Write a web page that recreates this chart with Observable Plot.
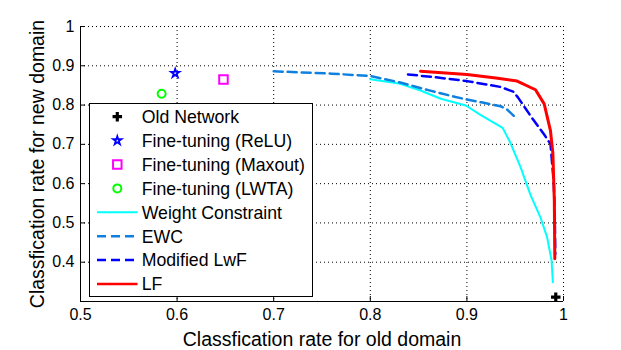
<!DOCTYPE html>
<html><head><meta charset="utf-8">
<script src="https://cdn.jsdelivr.net/npm/d3@7"></script>
<script src="https://cdn.jsdelivr.net/npm/@observablehq/plot@0.6"></script>
<style>body{margin:0;background:#fff} #chart{width:621px;height:350px}</style>
</head><body><div id="chart"></div>
<script>
// ---- data ----
const xTicks = [0.5, 0.6, 0.7, 0.8, 0.9, 1];
const yTicks = [0.4, 0.5, 0.6, 0.7, 0.8, 0.9, 1];
const xLabel = "Classfication rate for old domain";
const yLabel = "Classfication rate for new domain";
const seriesNames = ["Old Network", "Fine-tuning (ReLU)", "Fine-tuning (Maxout)", "Fine-tuning (LWTA)", "Weight Constraint", "EWC", "Modified LwF", "LF"];

// single points [old, new]
const oldNetwork = [0.992, 0.311];
const ftRelu = [0.598, 0.881];
const ftMaxout = [0.648, 0.865];
const ftLwta = [0.584, 0.829];

// curves
const wcOld = [0.800, 0.831, 0.852, 0.873, 0.899, 0.914, 0.937, 0.945, 0.9555, 0.966, 0.976, 0.983, 0.9876, 0.989];
const wcNew = [0.866, 0.854, 0.837, 0.816, 0.799, 0.775, 0.742, 0.704, 0.642, 0.570, 0.515, 0.464, 0.405, 0.349];

const ewcOld = [0.700, 0.760, 0.800, 0.830, 0.845, 0.860, 0.886, 0.900, 0.915, 0.935, 0.941, 0.951];
const ewcNew = [0.886, 0.880, 0.874, 0.858, 0.848, 0.838, 0.822, 0.814, 0.807, 0.797, 0.790, 0.767];

const lwfOld = [0.839, 0.870, 0.900, 0.935, 0.948, 0.953, 0.968, 0.980, 0.9865, 0.990, 0.991, 0.9915];
const lwfNew = [0.878, 0.870, 0.861, 0.846, 0.834, 0.819, 0.765, 0.725, 0.701, 0.600, 0.515, 0.420];

const lfOld = [0.852, 0.900, 0.930, 0.952, 0.971, 0.980, 0.9865, 0.989, 0.9905, 0.991];
const lfNew = [0.886, 0.878, 0.869, 0.861, 0.839, 0.803, 0.735, 0.677, 0.557, 0.409];

// ---- build ----
const toPts = (xs, ys) => xs.map((x, i) => ({x, y: ys[i]}));
const pt = (p) => [{x: p[0], y: p[1]}];
const font = "'Liberation Sans', Arial, Helvetica, sans-serif";
const C = {wc: "#00ffff", ewc: "#1080e0", lwf: "#0000ff", lf: "#ff0000", relu: "#0000ff", maxout: "#ff00ff", lwta: "#00ff00"};
const dotted = {stroke: "#000", strokeOpacity: 1, strokeDasharray: "1,3", strokeWidth: 1};
const R = {old: 4, relu: 2.6, maxout: 4.8, lwta: 4};

const chart = Plot.plot({
  width: 621, height: 350,
  marginLeft: 80, marginRight: 58, marginTop: 26, marginBottom: 49,
  style: {fontFamily: font, background: "#fff", color: "#000", overflow: "visible"},
  x: {domain: [0.5, 1]},
  y: {domain: [0.3, 1]},
  marks: [
    Plot.gridX(xTicks.slice(1), dotted),
    Plot.gridY(yTicks, dotted),
    Plot.ruleX([0.5], {stroke: "#000"}),
    Plot.ruleY([0.3], {stroke: "#000"}),
    Plot.axisX(xTicks, {tickSize: 0, tickPadding: 7, fontSize: 16, label: null, tickFormat: d => String(d)}),
    Plot.axisX(xTicks, {tickSize: -5, fill: "none", label: null}),
    Plot.axisY(yTicks, {tickSize: 0, tickPadding: 6, fontSize: 16, label: null, tickFormat: d => String(d)}),
    Plot.axisY(yTicks, {tickSize: -5, fill: "none", label: null}),
    Plot.dot(pt(oldNetwork), {x: "x", y: "y", symbol: "cross", r: R.old, fill: "#000", stroke: "none"}),
    Plot.dot(pt(ftRelu), {x: "x", y: "y", symbol: "star", r: R.relu, fill: "none", stroke: C.relu, strokeWidth: 1.8}),
    Plot.dot(pt(ftMaxout), {x: "x", y: "y", symbol: "square", r: R.maxout, fill: "none", stroke: C.maxout, strokeWidth: 2}),
    Plot.dot(pt(ftLwta), {x: "x", y: "y", symbol: "circle", r: R.lwta, fill: "none", stroke: C.lwta, strokeWidth: 2}),
    Plot.line(toPts(wcOld, wcNew), {x: "x", y: "y", stroke: C.wc, strokeWidth: 2, curve: "linear"}),
    Plot.line(toPts(ewcOld, ewcNew), {x: "x", y: "y", stroke: C.ewc, strokeWidth: 2.5, strokeDasharray: "9,5", curve: "linear"}),
    Plot.line(toPts(lwfOld, lwfNew), {x: "x", y: "y", stroke: C.lwf, strokeWidth: 2.5, strokeDasharray: "9,5", curve: "linear"}),
    Plot.line(toPts(lfOld, lfNew), {x: "x", y: "y", stroke: C.lf, strokeWidth: 3, curve: "linear"}),
    Plot.text([xLabel], {frameAnchor: "bottom", dy: 44, lineAnchor: "bottom", fontSize: 19.5}),
    Plot.text([yLabel], {frameAnchor: "left", textAnchor: "middle", dx: -37, rotate: -90, lineAnchor: "bottom", fontSize: 19.5})
  ]
});
document.getElementById("chart").appendChild(chart);

// ---- legend (inside plot area) ----
const svg = d3.select(chart);
const lg = svg.append("g").attr("font-family", font).attr("font-size", 17.7).attr("fill", "#000").attr("text-anchor", "start");
lg.append("rect").attr("x", 89.5).attr("y", 103.5).attr("width", 223).attr("height", 193)
  .attr("fill", "#fff").attr("stroke", "#000").attr("stroke-width", 1);
const legendStyles = [
  {type: "sym", sym: d3.symbolCross, r: R.old, fill: "#000", stroke: "none", sw: 0},
  {type: "sym", sym: d3.symbolStar, r: R.relu, fill: "none", stroke: C.relu, sw: 1.8},
  {type: "sym", sym: d3.symbolSquare, r: R.maxout, fill: "none", stroke: C.maxout, sw: 2},
  {type: "sym", sym: d3.symbolCircle, r: R.lwta, fill: "none", stroke: C.lwta, sw: 2},
  {type: "line", stroke: C.wc, sw: 2, dash: null},
  {type: "line", stroke: C.ewc, sw: 2.5, dash: "9,5"},
  {type: "line", stroke: C.lwf, sw: 2.5, dash: "9,5"},
  {type: "line", stroke: C.lf, sw: 2.5, dash: null}
];
seriesNames.forEach((name, i) => {
  const cy = 116.7 + i * 23.9;
  const s = legendStyles[i];
  if (s.type === "sym") {
    lg.append("path").attr("d", d3.symbol(s.sym, Math.PI * s.r * s.r)()).attr("transform", `translate(117.3,${cy})`)
      .attr("fill", s.fill).attr("stroke", s.stroke).attr("stroke-width", s.sw);
  } else {
    lg.append("line").attr("x1", 97).attr("x2", 137.5).attr("y1", cy).attr("y2", cy)
      .attr("stroke", s.stroke).attr("stroke-width", s.sw).attr("stroke-dasharray", s.dash);
  }
  lg.append("text").attr("x", 141.7).attr("y", cy).attr("dy", "0.36em").text(name);
});
</script>
</body></html>
